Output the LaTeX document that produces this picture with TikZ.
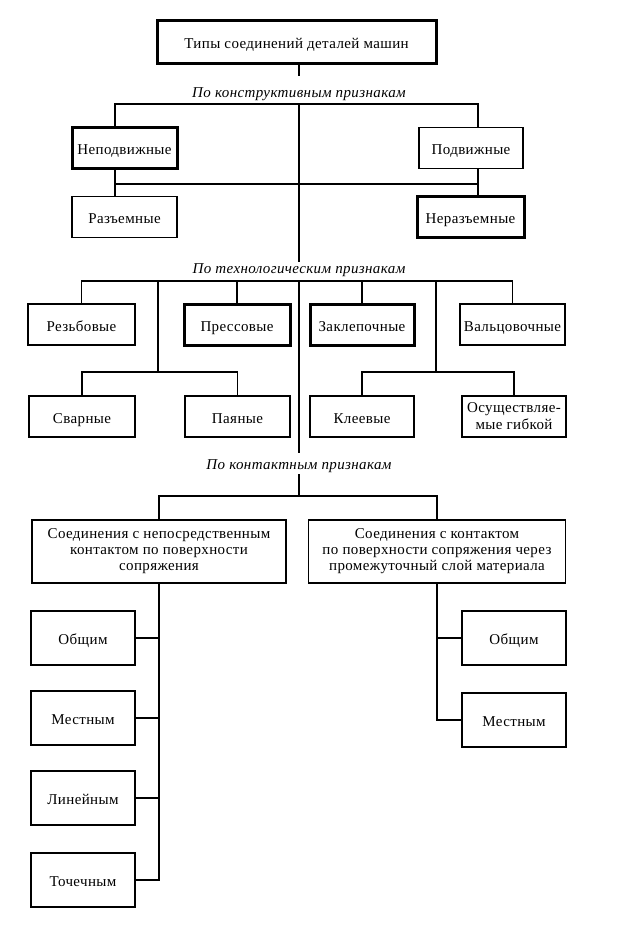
\documentclass[tikz,border=0pt]{standalone}
\usepackage{fontspec}
\setmainfont{Liberation Serif}[LetterSpace=2.5]
\usetikzlibrary{positioning,calc}
\tikzset{
  ramka/.style={draw,line width=1.8pt,inner sep=2pt,align=center},
  blok/.style={ramka,minimum width=105pt,minimum height=41pt,text height=14pt,text depth=1pt},
  zhb/.style={blok,line width=3pt},
  niz/.style={blok,minimum width=104pt,minimum height=54pt},
  shir/.style={ramka,minimum height=63pt},
  podp/.style={font=\fontsize{15}{17}\selectfont\itshape,inner sep=0pt},
  lin/.style={line width=1.8pt},
}

\begin{document}
\begin{tikzpicture}[x=1pt,y=-1pt,font=\fontsize{15}{16}\selectfont]
  \useasboundingbox (0,0) rectangle (629,940);
  \node[zhb,minimum width=279pt,minimum height=43pt] (tip) at (296.5,41.5) {Типы соединений деталей машин};
  \node[podp] (p1) at (299,94) {По конструктивным признакам};
  \node[zhb] (nep) at (124.5,148) {Неподвижные};
  \node[blok,minimum width=104pt] (pod) at (471,148) {Подвижные};
  \node[blok] (raz) at (124.5,217) {Разъемные};
  \node[zhb,minimum width=107pt] (neraz) at (470.5,217) {Неразъемные};
  \coordinate (s0) at (299,63);
  \coordinate (s1) at (299,76);
  \coordinate (k1) at (299,104);
  \coordinate (k2) at (299,262);
  \coordinate (v1) at (115,184);
  \coordinate (v2) at (478,184);
  \draw[lin] (s0) -- (s1);
  \draw[lin] (nep.north -| v1) |- (k1) -| (pod.north -| v2);
  \draw[lin] (nep.south -| v1) -- (raz.north -| v1);
  \draw[lin] (pod.south -| v2) -- (neraz.north -| v2);
  \draw[lin] (v1) -- (v2);
  \draw[lin] (k1) -- (k2);

  \node[podp] (p2) at (299,270) {По технологическим признакам};
  \coordinate (k3) at (299,281);
  \coordinate (k4) at (299,453);
  \coordinate (r1) at (158,372);
  \coordinate (r2) at (436,372);
  \node[blok,minimum width=107pt] (rez) at (81.5,324.5) {Резьбовые};
  \node[zhb,minimum width=106pt] (press) at (237,324.5) {Прессовые};
  \node[zhb,minimum width=104pt] (zakl) at (362,324.5) {Заклепочные};
  \node[blok] (valc) at (512.5,324.5) {Вальцовочные};
  \node[blok,minimum width=106pt] (svar) at (82,416.5) {Сварные};
  \node[blok] (payan) at (237.5,416.5) {Паяные};
  \node[blok,minimum width=104pt] (kleev) at (362,416.5) {Клеевые};
  \node[ramka,minimum width=104pt,minimum height=41pt,font=\fontsize{15}{17}\selectfont] (osush) at (514,416.5) {Осуществляе-\\мые гибкой};
  \draw[lin] (rez.north) |- (k3) -| (valc.north);
  \foreach \a in {press,zakl} \draw[lin] (\a.north) -- (\a.north |- k3);
  \draw[lin] (r1 |- k3) -- (r1);
  \draw[lin] (r2 |- k3) -- (r2);
  \draw[lin] (svar.north) |- (r1) -| (payan.north);
  \draw[lin] (kleev.north) |- (r2) -| (osush.north);
  \draw[lin] (k3) -- (k4);

  \node[podp] (p3) at (299,466) {По контактным признакам};
  \coordinate (k5) at (299,474);
  \coordinate (k6) at (299,496);
  \node[shir,minimum width=254pt] (lev) at (159,551.5) {Соединения с непосредственным\\контактом по поверхности\\сопряжения};
  \node[shir,minimum width=257pt] (prav) at (437,551.5) {Соединения с контактом\\по поверхности сопряжения через\\промежуточный слой материала};
  \draw[lin] (k5) -- (k6);
  \draw[lin] (lev.north) |- (k6) -| (prav.north);
  \node[niz] (obL) at (83,638) {Общим};
  \node[niz] (mesL) at (83,718) {Местным};
  \node[niz] (linL) at (83,798) {Линейным};
  \node[niz] (tochL) at (83,880) {Точечным};
  \node[niz] (obR) at (514,638) {Общим};
  \node[niz] (mesR) at (514,720) {Местным};
  \draw[lin] (lev.south) |- (tochL.east);
  \foreach \a in {obL,mesL,linL} \draw[lin] (\a.east) -- (\a.east -| lev.south);
  \draw[lin] (prav.south) |- (mesR.west);
  \draw[lin] (obR.west) -- (obR.west -| prav.south);
\end{tikzpicture}
\end{document}
